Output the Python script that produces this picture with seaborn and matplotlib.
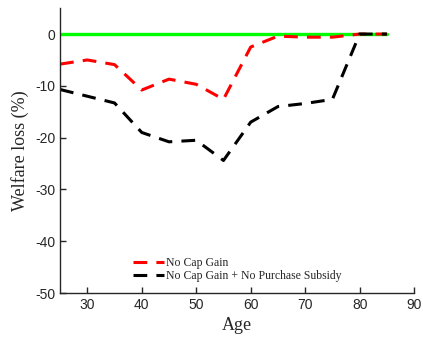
import matplotlib
matplotlib.use("Agg")
import matplotlib.pyplot as plt
import seaborn as sns
import pandas as pd

age = [25, 30, 35, 40, 45, 50, 55, 60, 65, 70, 75, 80, 85]
no_cap_gain = [-5.8, -5.0, -5.9, -10.8, -8.7, -9.7, -12.6, -2.5, -0.4, -0.6, -0.6, 0.0, 0.0]
no_cap_gain_no_subsidy = [-10.7, -12.0, -13.3, -19.0, -20.8, -20.5, -24.4, -17.0, -14.0, -13.4, -12.6, 0.0, 0.0]
baseline = [0.0] * len(age)

xticks = [30, 40, 50, 60, 70, 80, 90]
yticks = [0, -10, -20, -30, -40, -50]

sns.set_style("ticks")
plt.rcParams['font.family'] = ['Liberation Sans', 'DejaVu Sans']
plt.rcParams['axes.unicode_minus'] = False

fig = plt.figure(figsize=(4.23, 3.4), dpi=100)
ax = fig.add_axes([0.142, 0.138, 0.837, 0.838])

df = pd.DataFrame({"Age": age, "base": baseline, "a": no_cap_gain, "b": no_cap_gain_no_subsidy})

sns.lineplot(data=df, x="Age", y="base", ax=ax, color=(0, 1, 0), linewidth=2.4, label="_nolegend_")
sns.lineplot(data=df, x="Age", y="a", ax=ax, color="red", linewidth=2.2,
             linestyle=(0, (4.5, 3)), label="No Cap Gain")
sns.lineplot(data=df, x="Age", y="b", ax=ax, color="black", linewidth=2.2,
             linestyle=(0, (4.5, 3)), label="No Cap Gain + No Purchase Subsidy")

ax.set_xlim(25, 90)
ax.set_ylim(-50, 5)
ax.set_xticks(xticks)
ax.set_yticks(yticks)
ax.tick_params(direction="in", length=4, width=1, colors="#262626", labelsize=10)
for s in ["top", "right"]:
    ax.spines[s].set_visible(False)
for s in ["left", "bottom"]:
    ax.spines[s].set_color("#262626")
    ax.spines[s].set_linewidth(1.0)

ax.set_xlabel("Age", family="Liberation Serif", fontsize=13, color="#262626")
ax.set_ylabel("Welfare loss (%)", family="Liberation Serif", fontsize=13, color="#262626")

leg = ax.legend(loc="lower center", bbox_to_anchor=(0.5, 0.0), frameon=False,
                prop={"family": "Liberation Serif", "size": 8.5}, handlelength=2.7,
                handletextpad=0.15, labelspacing=0.1, borderaxespad=0.55)

fig.savefig("out.png", dpi=100)
